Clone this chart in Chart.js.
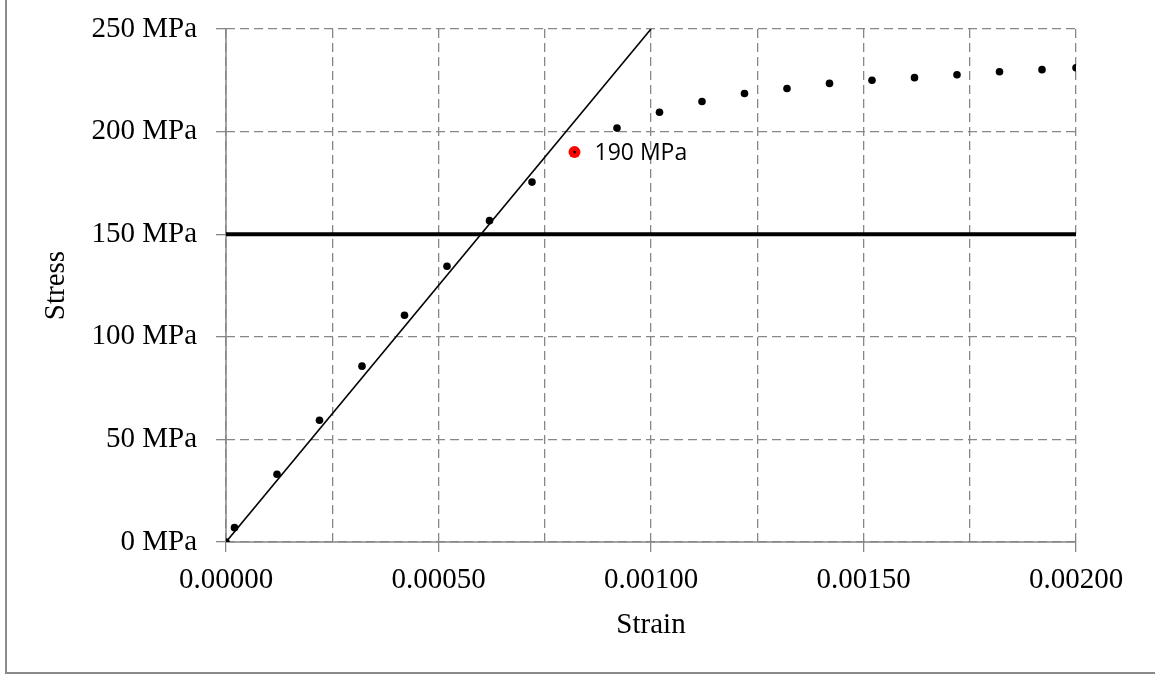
<!DOCTYPE html>
<html>
<head>
<meta charset="utf-8">
<title>Stress vs Strain</title>
<script src="https://cdn.jsdelivr.net/npm/chart.js@4/dist/chart.umd.min.js"></script>
<style>
  html, body { margin: 0; padding: 0; background: #fff; overflow: hidden; }
</style>
</head>
<body>
<canvas id="chart" width="1155" height="674"></canvas>
<script>
  // ── Data ────────────────────────────────────────────────────────
  const strain = [0, 0.00002, 0.00012, 0.00022, 0.00032, 0.00042, 0.00052, 0.00062, 0.00072,
                  0.00092, 0.00102, 0.00112, 0.00122, 0.00132, 0.00142, 0.00152, 0.00162,
                  0.00172, 0.00182, 0.00192, 0.00200];
  const stress = [0, 7, 33, 59.3, 85.7, 110.5, 134.4, 156.6, 175.4,
                  201.7, 209.4, 214.7, 218.6, 221.0, 223.5, 225.0, 226.3,
                  227.7, 229.2, 230.2, 231.1];

  // marked point (yield estimate)
  const markStrain = 0.00082;
  const markStress = 190;
  const markLabel  = "190 MPa";

  // elastic line and allowable stress line
  const elasticStrain = [0, 0.001];
  const elasticStress = [0, 250];
  const limitStrain   = [0, 0.002];
  const limitStress   = [150, 150];

  const yTicks = [0, 50, 100, 150, 200, 250];

  const toXY = (xs, ys) => xs.map((x, i) => ({ x, y: ys[i] }));

  // ── Style ───────────────────────────────────────────────────────
  const serif     = "'Liberation Serif', 'Times New Roman', serif";
  const gridGray  = "#878787";
  const gridDash  = [9, 5];
  const axisFont  = 29;

  Chart.defaults.font.family = serif;
  Chart.defaults.color = "#000";

  // outer frame (left + bottom edges only)
  const framePlugin = {
    id: "frame",
    beforeDraw(chart) {
      const { ctx } = chart;
      ctx.save();
      ctx.strokeStyle = "#8a8a8a";
      ctx.lineWidth = 2;
      ctx.beginPath();
      ctx.moveTo(6, 0);
      ctx.lineTo(6, 673);
      ctx.lineTo(1155, 673);
      ctx.stroke();
      ctx.restore();
    },
  };

  // solid axis lines drawn over the dashed grid
  const axisPlugin = {
    id: "axisLines",
    beforeDatasetsDraw(chart) {
      const { ctx, chartArea: a } = chart;
      ctx.save();
      ctx.strokeStyle = gridGray;
      ctx.lineWidth = 1.5;
      ctx.setLineDash([]);
      ctx.beginPath();
      ctx.moveTo(a.left, a.top);
      ctx.lineTo(a.left, a.bottom);
      ctx.lineTo(a.right, a.bottom);
      ctx.stroke();
      ctx.restore();
    },
  };

  // label next to the marked point
  const markLabelPlugin = {
    id: "markLabel",
    afterDatasetsDraw(chart) {
      const { ctx, scales } = chart;
      const px = scales.x.getPixelForValue(markStrain);
      const py = scales.y.getPixelForValue(markStress);
      ctx.save();
      ctx.font = "23px 'Open Sans', 'Noto Sans', sans-serif";
      ctx.fillStyle = "#000";
      ctx.textAlign = "left";
      ctx.textBaseline = "middle";
      ctx.fillText(markLabel, px + 20, py + 1);
      ctx.restore();
    },
  };

  new Chart(document.getElementById("chart"), {
    type: "scatter",
    data: {
      datasets: [
        {
          label: "mark centre",
          data: toXY([markStrain], [markStress]),
          pointRadius: 1.3,
          pointBackgroundColor: "#000",
          pointBorderWidth: 0,
          order: 0,
        },
        {
          label: "mark",
          data: toXY([markStrain], [markStress]),
          pointRadius: 6,
          pointBackgroundColor: "#ff0000",
          pointBorderColor: "#ff0000",
          pointBorderWidth: 0,
          order: 1,
        },
        {
          label: "test",
          data: toXY(strain, stress),
          pointRadius: 3.8,
          pointBackgroundColor: "#000",
          pointBorderWidth: 0,
          order: 2,
        },
        {
          label: "elastic",
          data: toXY(elasticStrain, elasticStress),
          showLine: true,
          borderColor: "#000",
          borderWidth: 1.6,
          pointRadius: 0,
          order: 3,
        },
        {
          label: "limit",
          data: toXY(limitStrain, limitStress),
          showLine: true,
          borderColor: "#000",
          borderWidth: 4,
          pointRadius: 0,
          order: 4,
        },
      ],
    },
    options: {
      responsive: false,
      animation: false,
      layout: { padding: { left: 0, top: 29, right: 79, bottom: 0 } },
      plugins: {
        legend: { display: false },
        tooltip: { enabled: false },
      },
      scales: {
        x: {
          type: "linear",
          min: 0,
          max: 0.002,
          afterFit: (s) => { s.height = 132; },
          afterBuildTicks: (s) => {
            s.ticks = [0, 1, 2, 3, 4, 5, 6, 7, 8].map((i) => ({ value: i * 0.00025 }));
          },
          ticks: {
            autoSkip: false,
            maxRotation: 0,
            padding: 11,
            font: { size: axisFont },
            callback: (v, i) => (i % 2 === 0 ? Number(v).toFixed(5) : ""),
          },
          grid: {
            color: gridGray,
            lineWidth: 1.3,
            tickLength: 10,
            tickBorderDash: [],
            tickColor: (c) => (c.index % 2 === 0 ? gridGray : "rgba(0,0,0,0)"),
          },
          border: { display: false, dash: gridDash },
          title: {
            display: true,
            text: "Strain",
            font: { size: axisFont },
            padding: { top: 0, bottom: 31 },
          },
        },
        y: {
          min: 0,
          max: 250,
          afterFit: (s) => { s.width = 226; },
          afterBuildTicks: (s) => { s.ticks = yTicks.map((v) => ({ value: v })); },
          ticks: {
            padding: 19,
            // single-line labels: a small lineHeight keeps the plot top free
            font: { size: axisFont, lineHeight: 0.4 },
            callback: (v) => v + " MPa",
          },
          grid: {
            color: gridGray,
            lineWidth: 1.3,
            tickLength: 10,
            tickBorderDash: [],
            tickColor: gridGray,
          },
          border: { display: false, dash: gridDash },
          title: {
            display: true,
            text: "Stress",
            font: { size: axisFont },
            padding: { top: 39, bottom: 0 },
          },
        },
      },
    },
    plugins: [framePlugin, axisPlugin, markLabelPlugin],
  });
</script>
</body>
</html>
